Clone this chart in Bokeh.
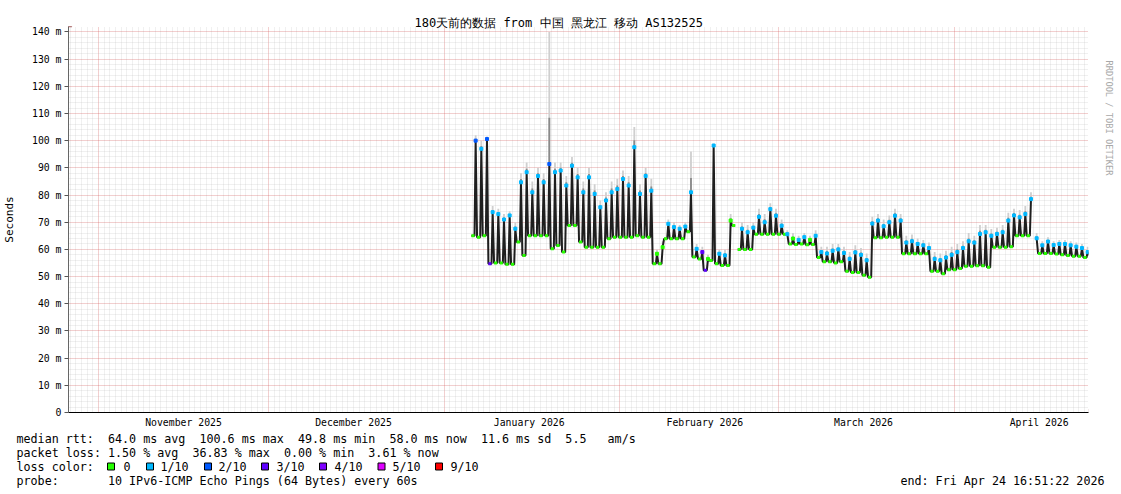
import math
from datetime import datetime
from bokeh.plotting import figure
from bokeh.models import FixedTicker, Label, PolyAnnotation, ColumnDataSource, LinearAxis
from bokeh.embed import file_html
from bokeh.resources import INLINE

nan = float("nan")

# ---------------- data ----------------
START = datetime(2025, 10, 26, 16, 51, 22)
END = datetime(2026, 4, 24, 16, 51, 22)
DAY = 86400
SPAN = int((END - START).total_seconds())

title_text = "180天前的数据 from 中国 黑龙江 移动 AS132525"
month_starts = [datetime(2025, 11, 1), datetime(2025, 12, 1), datetime(2026, 1, 1),
                datetime(2026, 2, 1), datetime(2026, 3, 1), datetime(2026, 4, 1)]
month_labels = ["November 2025", "December 2025", "January 2026",
                "February 2026", "March 2026", "April 2026"]
y_ticks = [0, 10, 20, 30, 40, 50, 60, 70, 80, 90, 100, 110, 120, 130, 140]
y_labels = ["0", "10 m", "20 m", "30 m", "40 m", "50 m", "60 m", "70 m",
            "80 m", "90 m", "100 m", "110 m", "120 m", "130 m", "140 m"]

first_day = 70  # day index (days since START) of the first entry below

# daily evening peak of median rtt (ms)
day_high = [nan, 100, 97, 100.6, 73.7, 73, 71, 72.5, 67.6, 84.7,          # 70-79
            88.4, 81, 87, 84.7, 91.4, 88.4, 89, 83.5, 90.8, 86.5,          # 80-89
            81, 86.5, 80.4, 75.5, 78, 81, 82.2, 85.9, 83.5, 97.6,          # 90-99
            80.4, 87, 81.6, 58.4, 60.8, 69.4, 68.2, 67.6, 68.4, 81,        # 100-109
            60.2, 59, 56.5, 98.2, 58.4, 57.8, 70.6, nan, 67.6, 66.3,       # 110-119
            68, 72, 70, 74.8, 72.4, 68.7, 65.6, 64, 63.5, 64.5,            # 120-129
            63.5, 65, 59, 58.5, 59.5, 60, 58.7, 56.5, 58.9, 58,            # 130-139
            56, 69.5, 70.6, 68.5, 70, 72.4, 70.6, 62.5, 63, 62,            # 140-149
            61.5, 60.5, 56.5, 56, 57, 58, 59, 60.5, 63, 62.5,              # 150-159
            65.7, 66.3, 65, 65.7, 66.3, 70.6, 72.5, 71.8, 73, 78.5,        # 160-169
            64.1, 61.5, 62.9, 61.6, 62, 62, 61.5, 61, 60.5, 59]            # 170-179

# daily trough of median rtt (ms)
day_low = [65, 64.5, 65, 54.7, 55, 55, 54.5, 54.5, 62.7, 57.8,            # 70-79
           65, 65, 65, 65, 60.2, 61.4, 59, 68.8, 68.8, 62.7,              # 80-89
           60.8, 60.8, 60.8, 60.8, 63.9, 64.5, 64.5, 64.5, 64.5, 65,      # 90-99
           64.5, 64.5, 54.7, 54.7, 63.9, 63.9, 63.9, 63.9, 66.5, 57.2,    # 100-109
           56.5, 52.3, 55.9, 54.7, 54.1, 54.1, 68.8, 60, 60, 60,          # 110-119
           65.6, 65.6, 65.6, 65.6, 65.6, 65.6, 62, 61.8, 62, 61.7,        # 120-129
           61.8, 57, 55.5, 55.5, 55, 55.5, 52, 51.5, 51.5, 50.5,          # 130-139
           49.8, 64.3, 64.3, 64.5, 64.5, 64.5, 58.4, 58.4, 58.4, 58.4,    # 140-149
           58.4, 52, 52, 51, 52.5, 52.5, 53, 53.8, 53.8, 54,              # 150-159
           54, 53.4, 60.8, 60.8, 60.8, 61, 65, 65, 65, nan,               # 160-169
           58.5, 58.5, 58.5, 58.3, 58, 57.8, 57.5, 57.5, 57, 58]          # 170-179

# highest ping of the day (top of the smoke, ms)
day_max = [nan, 102, 100, 101.5, 76, 75, 73, 74, 70, 88,                  # 70-79
           92, 85, 90, 88, 140, 92, 92, 87, 94, 90,                        # 80-89
           85, 90, 84, 78, 81, 85, 86, 89, 87, 105,                        # 90-99
           84, 90, 86, 60, 63, 71, 70, 69, 70, 96,                         # 100-109
           62, 61, 58, 99, 60, 60, 73, nan, 70, 69,                        # 110-119
           70, 75, 73, 77, 75, 71, 67, 66, 65, 66,                         # 120-129
           65, 67, 61, 61, 62, 62, 61, 59, 61.5, 60.5,                     # 130-139
           58.5, 72, 73, 71, 72.5, 75, 73, 65, 65.5, 64,                   # 140-149
           63.5, 62.5, 59, 58.5, 59.5, 61, 62, 63, 66, 65,                 # 150-159
           69, 69, 67.5, 68, 69, 73.5, 75, 74.5, 76, 81,                   # 160-169
           66, 63, 64.5, 63, 63.5, 63.5, 63, 62.5, 62, 61]                 # 170-179

# loss class at the peak / trough (index into loss_names)
high_loss = [0, 2, 1, 2, 1, 1, 1, 1, 1, 1,
             1, 1, 1, 1, 2, 1, 1, 1, 1, 1,
             1, 1, 1, 1, 1, 1, 1, 1, 1, 1,
             1, 1, 1, 0, 0, 1, 1, 1, 1, 1,
             1, 3, 0, 1, 1, 1, 0, 0, 1, 1,
             1, 1, 1, 1, 1, 1, 1, 0, 1, 1,
             0, 1, 1, 1, 1, 1, 1, 1, 1, 1,
             1, 1, 1, 1, 1, 1, 1, 1, 1, 1,
             1, 1, 1, 1, 1, 1, 1, 1, 1, 1,
             1, 1, 1, 1, 1, 1, 1, 1, 1, 1,
             1, 1, 1, 1, 1, 1, 1, 1, 1, 1]
low_loss = [0, 0, 0, 3, 0, 0, 0, 0, 0, 0,
            0, 0, 0, 0, 0, 0, 0, 0, 0, 0,
            0, 0, 0, 0, 0, 0, 0, 0, 0, 0,
            0, 0, 0, 0, 0, 0, 0, 0, 0, 0,
            0, 3, 0, 0, 0, 0, 0, 0, 0, 0,
            0, 0, 0, 0, 0, 0, 0, 0, 0, 0,
            0, 0, 0, 0, 0, 0, 0, 0, 0, 0,
            0, 0, 0, 0, 0, 0, 0, 0, 0, 0,
            0, 0, 0, 0, 0, 0, 0, 0, 0, 0,
            0, 0, 0, 0, 0, 0, 0, 0, 0, 0,
            0, 0, 0, 0, 0, 0, 0, 0, 0, 0]

loss_names = ["0", "1/10", "2/10", "3/10", "4/10", "5/10", "9/10"]
loss_colors = ["#26ff00", "#00b8ff", "#0059ff", "#5e00ff", "#7e00ff", "#dd00ff", "#ff0000"]

stat_rtt = "median rtt:  64.0 ms avg  100.6 ms max  49.8 ms min  58.0 ms now  11.6 ms sd  5.5   am/s"
stat_loss = "packet loss: 1.50 % avg  36.83 % max  0.00 % min  3.61 % now"
stat_color = "loss color:"
stat_probe = "probe:       10 IPv6-ICMP Echo Pings (64 Bytes) every 60s"
stat_end = "end: Fri Apr 24 16:51:22 2026"
watermark = "RRDTOOL / TOBI OETIKER"

# ---------------- geometry ----------------
W = 1121
MAIN_H = 430
FR_L, FR_T, FR_W, FR_H = 67, 26, 1023, 386     # frame in page px
Y_TOP = 142
FONT = "DejaVu Sans Mono"


def sx(px):  # page px -> data x of the main chart
    return (px - FR_L) * SPAN / FR_W


def sy(py):  # page px -> data y of the main chart
    return (FR_T + FR_H - py) * Y_TOP / FR_H


def secs(dt):
    return int((dt - START).total_seconds())


def nb(s):  # keep runs of spaces in SVG text
    return s.replace(" ", "\u00a0")


month_ticks = [secs(m) for m in month_starts]
mid_ticks = [t + 15 * DAY for t in month_ticks]
first_midnight = secs(datetime(2025, 10, 27))
day_ticks = list(range(first_midnight, SPAN, DAY))

# ---------------- main figure ----------------
p = figure(width=W, height=MAIN_H, x_range=(0, SPAN), y_range=(0, Y_TOP),
           output_backend="svg", toolbar_location=None,
           min_border_left=FR_L, min_border_right=W - FR_L - FR_W,
           min_border_top=FR_T, min_border_bottom=MAIN_H - FR_T - FR_H)
p.outline_line_color = None
p.background_fill_color = "white"
p.border_fill_color = "white"

p.title.text = title_text
p.title.align = "left"
p.title.offset = 413 - FR_L
p.title.text_font = FONT
p.title.text_font_size = "12px"
p.title.text_font_style = "normal"
p.title.text_color = "black"
p.title.vertical_align = "bottom"
p.title.standoff = -6

xax = p.below[0]
xax.ticker = FixedTicker(ticks=mid_ticks)
xax.major_label_overrides = {t: l for t, l in zip(mid_ticks, month_labels)}
xax.major_tick_line_color = None
xax.minor_tick_line_color = None
xax.major_tick_out = 0
xax.major_tick_in = 0
xax.minor_tick_out = 0
xax.minor_tick_in = 0
xax.axis_line_color = "black"
xax.major_label_text_font = FONT
xax.major_label_text_font_size = "9.8px"
xax.major_label_text_color = "black"
xax.major_label_standoff = 4

yax = p.left[0]
yax.ticker = FixedTicker(ticks=y_ticks, minor_ticks=list(range(0, Y_TOP + 1, 2)))
yax.major_label_overrides = {t: l for t, l in zip(y_ticks, y_labels)}
yax.major_tick_out = 4
yax.major_tick_in = 0
yax.minor_tick_out = 0
yax.minor_tick_in = 0
yax.major_tick_line_color = "#555555"
yax.minor_tick_line_color = None
yax.axis_line_color = "#666666"
yax.major_label_text_font = FONT
yax.major_label_text_font_size = "9.8px"
yax.major_label_text_color = "black"
yax.major_label_standoff = 3
yax.axis_label = "Seconds"
yax.axis_label_text_font = FONT
yax.axis_label_text_font_size = "11px"
yax.axis_label_text_font_style = "normal"
yax.axis_label_text_color = "black"
yax.axis_label_standoff = 13

wm_tick = 129.5
wm_axis = LinearAxis(ticker=FixedTicker(ticks=[wm_tick]),
                     major_label_overrides={wm_tick: watermark},
                     major_label_orientation=-math.pi / 2,
                     axis_line_color=None, major_tick_line_color=None,
                     minor_tick_line_color=None,
                     major_tick_out=0, major_tick_in=0, minor_tick_out=0, minor_tick_in=0,
                     major_label_text_font=FONT, major_label_text_font_size="8.7px",
                     major_label_text_color="#a8a8a8", major_label_standoff=20)
p.add_layout(wm_axis, "right")

for g in (p.xgrid, p.ygrid):
    g.grid_line_color = "#ff0000"
    g.grid_line_alpha = 0.28
    g.grid_line_dash = "1 1"
    g.minor_grid_line_color = "#b4b4b4"
    g.minor_grid_line_alpha = 0.4
    g.minor_grid_line_dash = "1 1"
p.xgrid.ticker = FixedTicker(ticks=month_ticks, minor_ticks=day_ticks)

# ---------------- data glyphs ----------------
pk_t, pk_h, pk_m, pk_c = [], [], [], []
lo_x0, lo_x1, lo_y, lo_c = [], [], [], []
line_t, line_v = [], []
for k, (h, lo) in enumerate(zip(day_high, day_low)):
    d = first_day + k
    tp = (d + 0.85) * DAY
    line_t.append(tp)
    line_v.append(h)
    line_t += [(d + 1.1) * DAY, (d + 1.65) * DAY]
    line_v += [lo, lo]
    if not math.isnan(h):
        pk_t.append(tp)
        pk_h.append(h)
        pk_m.append(day_max[k])
        pk_c.append(loss_colors[high_loss[k]])
    if not math.isnan(lo):
        lo_x0.append((d + 1.1) * DAY)
        lo_x1.append((d + 1.65) * DAY)
        lo_y.append(lo)
        lo_c.append(loss_colors[low_loss[k]])

peaks = ColumnDataSource(dict(t=pk_t, h=pk_h, m=pk_m, c=pk_c,
                              mid=[a + (b - a) * 0.35 for a, b in zip(pk_h, pk_m)]))
lows = ColumnDataSource(dict(x0=lo_x0, x1=lo_x1, y=lo_y, c=lo_c))

p.vbar(x="t", bottom="h", top="m", width=0.32 * DAY, source=peaks,
       fill_color="#cfcfcf", line_color=None)
p.vbar(x="t", bottom="h", top="mid", width=0.32 * DAY, source=peaks,
       fill_color="#8a8a8a", line_color=None)
p.line(line_t, line_v, line_color="#1e1e1e", line_width=2)
p.segment(x0="x0", x1="x1", y0="y", y1="y", source=lows, line_color="c", line_width=3)
p.scatter(x="t", y="h", source=peaks, marker="square", size=3,
          fill_color="c", line_color="c")

# ---------------- arrows ----------------
p.add_layout(PolyAnnotation(xs=[sx(67), sx(63.5), sx(70.5)], ys=[sy(20), sy(26.5), sy(26.5)],
                            fill_color="#7a1010", fill_alpha=1, line_color="#7a1010"))
p.add_layout(PolyAnnotation(xs=[sx(1097), sx(1090.5), sx(1090.5)], ys=[sy(412), sy(408.5), sy(415.5)],
                            fill_color="#7a1010", fill_alpha=1, line_color="#7a1010"))

# ---------------- legend strip (separate root below the chart) ----------------
STRIP_H = 494 - MAIN_H
q = figure(width=W, height=STRIP_H, x_range=(0, W), y_range=(494, MAIN_H),
           output_backend="svg", toolbar_location=None, min_border=0,
           x_axis_location=None, y_axis_location=None)
q.grid.visible = False
q.outline_line_color = None
q.background_fill_color = "white"
q.border_fill_color = "white"

ROW_FS = "11.7px"


def row(text, px, py, align="left"):
    q.add_layout(Label(x=px, y=py, text=nb(text), text_font=FONT, text_font_size=ROW_FS,
                       text_align=align, text_baseline="middle", text_color="black"))


row(stat_rtt, 16, 438)
row(stat_loss, 16, 452)
row(stat_color, 16, 466)
row(stat_probe, 16, 480)
row(stat_end, 1104, 480, align="right")

box_x = [107, 146, 204, 261, 319, 377.5, 435]
text_x = [123, 160, 218, 276, 334, 392, 450]
q.quad(left=box_x, right=[b + 7 for b in box_x], top=[462.5] * len(box_x),
       bottom=[469.5] * len(box_x), fill_color=loss_colors, line_color="black", line_width=1)
for tx, name in zip(text_x, loss_names):
    row(name, tx, 466)

open("out.html", "w").write(file_html([p, q], INLINE))
